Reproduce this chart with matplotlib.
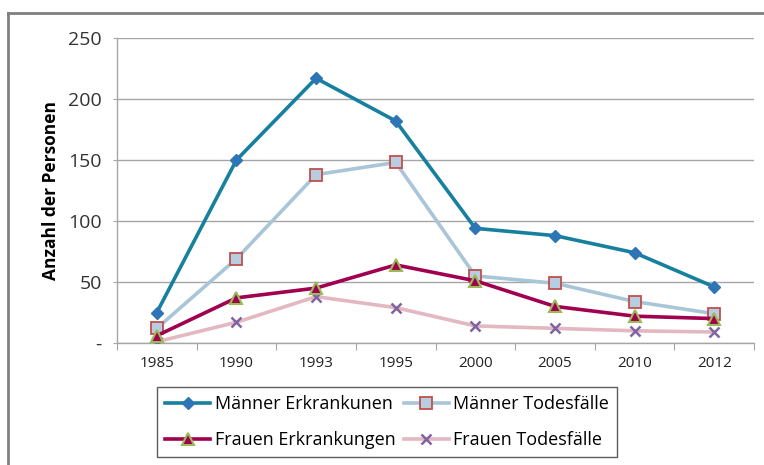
import numpy as np
import matplotlib.pyplot as plt
from matplotlib.lines import Line2D

plt.rcParams["font.family"] = ["Open Sans", "DejaVu Sans"]

years = ["1985", "1990", "1993", "1995", "2000", "2005", "2010", "2012"]
maenner_erkr = [25, 150, 217, 182, 94, 88, 74, 46]
maenner_tod = [12, 69, 138, 148, 55, 49, 34, 24]
frauen_erkr = [6, 37, 45, 64, 51, 30, 22, 20]
frauen_tod = [1, 17, 38, 29, 14, 12, 10, 9]

fig = plt.figure(figsize=(7.64, 4.65), dpi=100)
ax = fig.add_axes([117 / 764, 1 - 343 / 465, 637 / 764, 305 / 465])

x = np.arange(len(years))

l_me, = ax.plot(x, maenner_erkr, color="#16809E", lw=2.6, marker="D", ms=6,
                mfc="#2E75B6", mec="#2E75B6", label="Männer Erkrankunen", zorder=5)
l_mt, = ax.plot(x, maenner_tod, color="#A8C6D8", lw=2.6, marker="s", ms=8,
                mfc="#B9CDE0", mec="#C0504D", mew=1.3, label="Männer Todesfälle", zorder=4)
l_fe, = ax.plot(x, frauen_erkr, color="#A0004F", lw=2.6, marker="^", ms=8,
                mfc="#A0004F", mec="#9BBB59", mew=1.5, label="Frauen Erkrankungen", zorder=6)
l_ft, = ax.plot(x, frauen_tod, color="#E3B8C0", lw=2.6, marker="x", ms=7,
                mec="#8064A2", mew=1.8, label="Frauen Todesfälle", zorder=3)

ax.set_xlim(-0.5, len(years) - 0.5)
ax.set_ylim(0, 250)
ax.set_yticks([0, 50, 100, 150, 200, 250])
ax.set_yticklabels(["-", "50", "100", "150", "200", "250"], fontsize=14, color="#333333")
ax.yaxis.grid(True, color="#A6A6A6", lw=1)
ax.set_axisbelow(True)

# category boundary ticks, labels centred between them
ax.set_xticks(np.arange(-0.5, len(years), 1.0))
ax.set_xticklabels([])
ax.set_xticks(x, minor=True)
ax.set_xticklabels(years, minor=True, fontsize=11, color="#222222")
ax.tick_params(axis="x", which="major", length=5, color="#A6A6A6", direction="out")
ax.tick_params(axis="x", which="minor", length=0, pad=9)
ax.tick_params(axis="y", length=3, color="#A6A6A6", pad=8)

for side in ["top", "right"]:
    ax.spines[side].set_visible(False)
for side in ["left", "bottom"]:
    ax.spines[side].set_color("#A6A6A6")
    ax.spines[side].set_linewidth(1)

ax.set_ylabel("Anzahl der Personen", fontsize=12.5, fontweight="bold", labelpad=6)

# row-wise order: Männer on top, Frauen below
leg = fig.legend([l_me, l_fe, l_mt, l_ft],
                 [l_me.get_label(), l_fe.get_label(), l_mt.get_label(), l_ft.get_label()],
                 loc="upper left", bbox_to_anchor=(157 / 764, 1 - 387 / 465),
                 ncol=2, fontsize=13, frameon=True, fancybox=False,
                 handlelength=2.5, handletextpad=0.25, columnspacing=0.45,
                 labelspacing=1.0, borderpad=0.45, borderaxespad=0)
leg.get_frame().set_edgecolor("#333333")
leg.get_frame().set_linewidth(1)

# chart area border (left and top edges)
fig.add_artist(Line2D([8 / 764, 8 / 764], [0, 1 - 13 / 465], color="#808080", lw=2,
                      transform=fig.transFigure))
fig.add_artist(Line2D([8 / 764, 1], [1 - 13 / 465, 1 - 13 / 465], color="#808080", lw=2,
                      transform=fig.transFigure))

fig.savefig("out.png", dpi=100)
